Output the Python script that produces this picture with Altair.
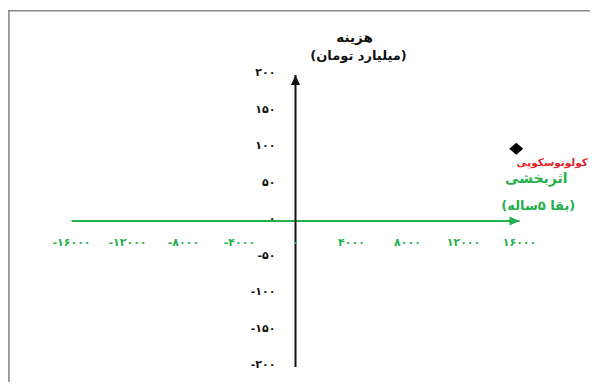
import altair as alt
import pandas as pd

# ---------------- data ----------------
x_ticks = [-16000, -12000, -8000, -4000, 0, 4000, 8000, 12000, 16000]
x_tick_labels = ["-۱۶۰۰۰", "-۱۲۰۰۰", "-۸۰۰۰", "-۴۰۰۰", "۰", "۴۰۰۰", "۸۰۰۰", "۱۲۰۰۰", "۱۶۰۰۰"]
y_ticks = [200, 150, 100, 50, 0, -50, -100, -150, -200]
y_tick_labels = ["۲۰۰", "۱۵۰", "۱۰۰", "۵۰", "۰", "-۵۰", "-۱۰۰", "-۱۵۰", "-۲۰۰"]

x_axis_span = [-16000, 16000]   # horizontal (effect) axis extent
y_axis_span = [-200, 200]       # vertical (cost) axis extent

strategy = ["کولونوسکوپی"]
effect = [15770]                # incremental effectiveness
cost = [99]                     # incremental cost (billion toman)

cost_title = ["هزینه", "(میلیارد تومان)"]
effect_title = ["اثربخشی", "(بقا ۵ساله)"]

# ---------------- styles ----------------
GREEN = "#22b14c"
RED = "#e0242c"
FONT = "DejaVu Sans"

X = alt.Scale(domain=[-20536, 21036], nice=False, zero=False)
Y = alt.Scale(domain=[-220.5, 291.8], nice=False, zero=False)

def xe(field):
    return alt.X(field, type="quantitative", scale=X, axis=None)

def ye(field):
    return alt.Y(field, type="quantitative", scale=Y, axis=None)

base_df = pd.DataFrame({"x0": [x_axis_span[0]], "x1": [x_axis_span[1]],
                        "y0": [y_axis_span[0]], "y1": [y_axis_span[1]], "z": [0]})
xt = pd.DataFrame({"v": x_ticks, "label": x_tick_labels, "z": 0})
yt = pd.DataFrame({"v": y_ticks, "label": y_tick_labels, "z": 0})
pts = pd.DataFrame({"effect": effect, "cost": cost, "name": strategy})

# frame (decorative border of the original picture)
frame_top = alt.Chart(base_df).mark_rule(color="#8a8a8a", strokeWidth=1.6).encode(
    x=alt.value(0), x2=alt.value(582), y=alt.value(2.8))
frame_left = alt.Chart(base_df).mark_rule(color="#8a8a8a", strokeWidth=1.6).encode(
    x=alt.value(0.9), y=alt.value(2.8), y2=alt.value(374))

h_line = alt.Chart(base_df).mark_rule(color=GREEN, strokeWidth=2).encode(
    x=xe("x0"), x2="x1", y=ye("z"))
v_line = alt.Chart(base_df).mark_rule(color="#111111", strokeWidth=2).encode(
    x=xe("z"), y=ye("y0"), y2="y1")

h_arrow = alt.Chart(base_df).mark_point(
    shape="M0,0L-2,-0.9L-2,0.9Z", filled=True, opacity=1, color=GREEN, size=100, strokeWidth=0
).encode(x=xe("x1"), y=ye("z"))
v_arrow = alt.Chart(base_df).mark_point(
    shape="M0,0L-0.9,2L0.9,2Z", filled=True, opacity=1, color="#111111", size=100, strokeWidth=0
).encode(x=xe("z"), y=ye("y1"))

x_labels = alt.Chart(xt).mark_text(
    font=FONT, fontSize=11, fontWeight="bold", color=GREEN, align="center",
    baseline="middle", dy=22
).encode(x=xe("v"), y=ye("z"), text="label:N")

y_labels = alt.Chart(yt).mark_text(
    font=FONT, fontSize=11, fontWeight="bold", color="#111111", align="right",
    baseline="middle", dx=-20, dy=-2
).encode(x=xe("z"), y=ye("v"), text="label:N")

point = alt.Chart(pts).mark_point(
    shape="M-1,0L0,-0.86L1,0L0,0.86Z", filled=True, opacity=1, color="#000000", size=196, strokeWidth=0
).encode(x=xe("effect"), y=ye("cost"))

name_lbl = alt.Chart(pts).mark_text(
    font=FONT, fontSize=10.5, fontWeight="bold", color=RED, align="center",
    baseline="middle", dx=36, dy=14
).encode(x=xe("effect"), y=ye("cost"), text="name:N")

eff_df = pd.DataFrame({"effect": effect, "cost": cost, "t1": [effect_title[0]], "t2": [effect_title[1]]})
eff1 = alt.Chart(eff_df).mark_text(
    font=FONT, fontSize=14, fontWeight="bold", color=GREEN, align="center",
    baseline="middle", dx=20, dy=30
).encode(x=xe("effect"), y=ye("cost"), text="t1:N")
eff2 = alt.Chart(eff_df).mark_text(
    font=FONT, fontSize=13, fontWeight="bold", color=GREEN, align="center",
    baseline="middle", dx=22, dy=57
).encode(x=xe("effect"), y=ye("cost"), text="t2:N")

cost_df = pd.DataFrame({"x": [0], "y": [y_axis_span[1]], "t1": [cost_title[0]], "t2": [cost_title[1]]})
ct1 = alt.Chart(cost_df).mark_text(
    font=FONT, fontSize=13.5, fontWeight="bold", color="#111111", align="center",
    baseline="middle", dx=59, dy=-37
).encode(x=xe("x"), y=ye("y"), text="t1:N")
ct2 = alt.Chart(cost_df).mark_text(
    font=FONT, fontSize=13, fontWeight="bold", color="#111111", align="center",
    baseline="middle", dx=63, dy=-19
).encode(x=xe("x"), y=ye("y"), text="t2:N")

chart = alt.layer(
    frame_top, frame_left, h_line, v_line, h_arrow, v_arrow,
    x_labels, y_labels, point, name_lbl, eff1, eff2, ct1, ct2
).properties(
    width=582, height=374,
    autosize=alt.AutoSizeParams(type="none"),
    padding=0,
    background="white",
).configure_view(stroke=None)

chart.save("out.html", embed_options={"renderer": "svg", "actions": False})
